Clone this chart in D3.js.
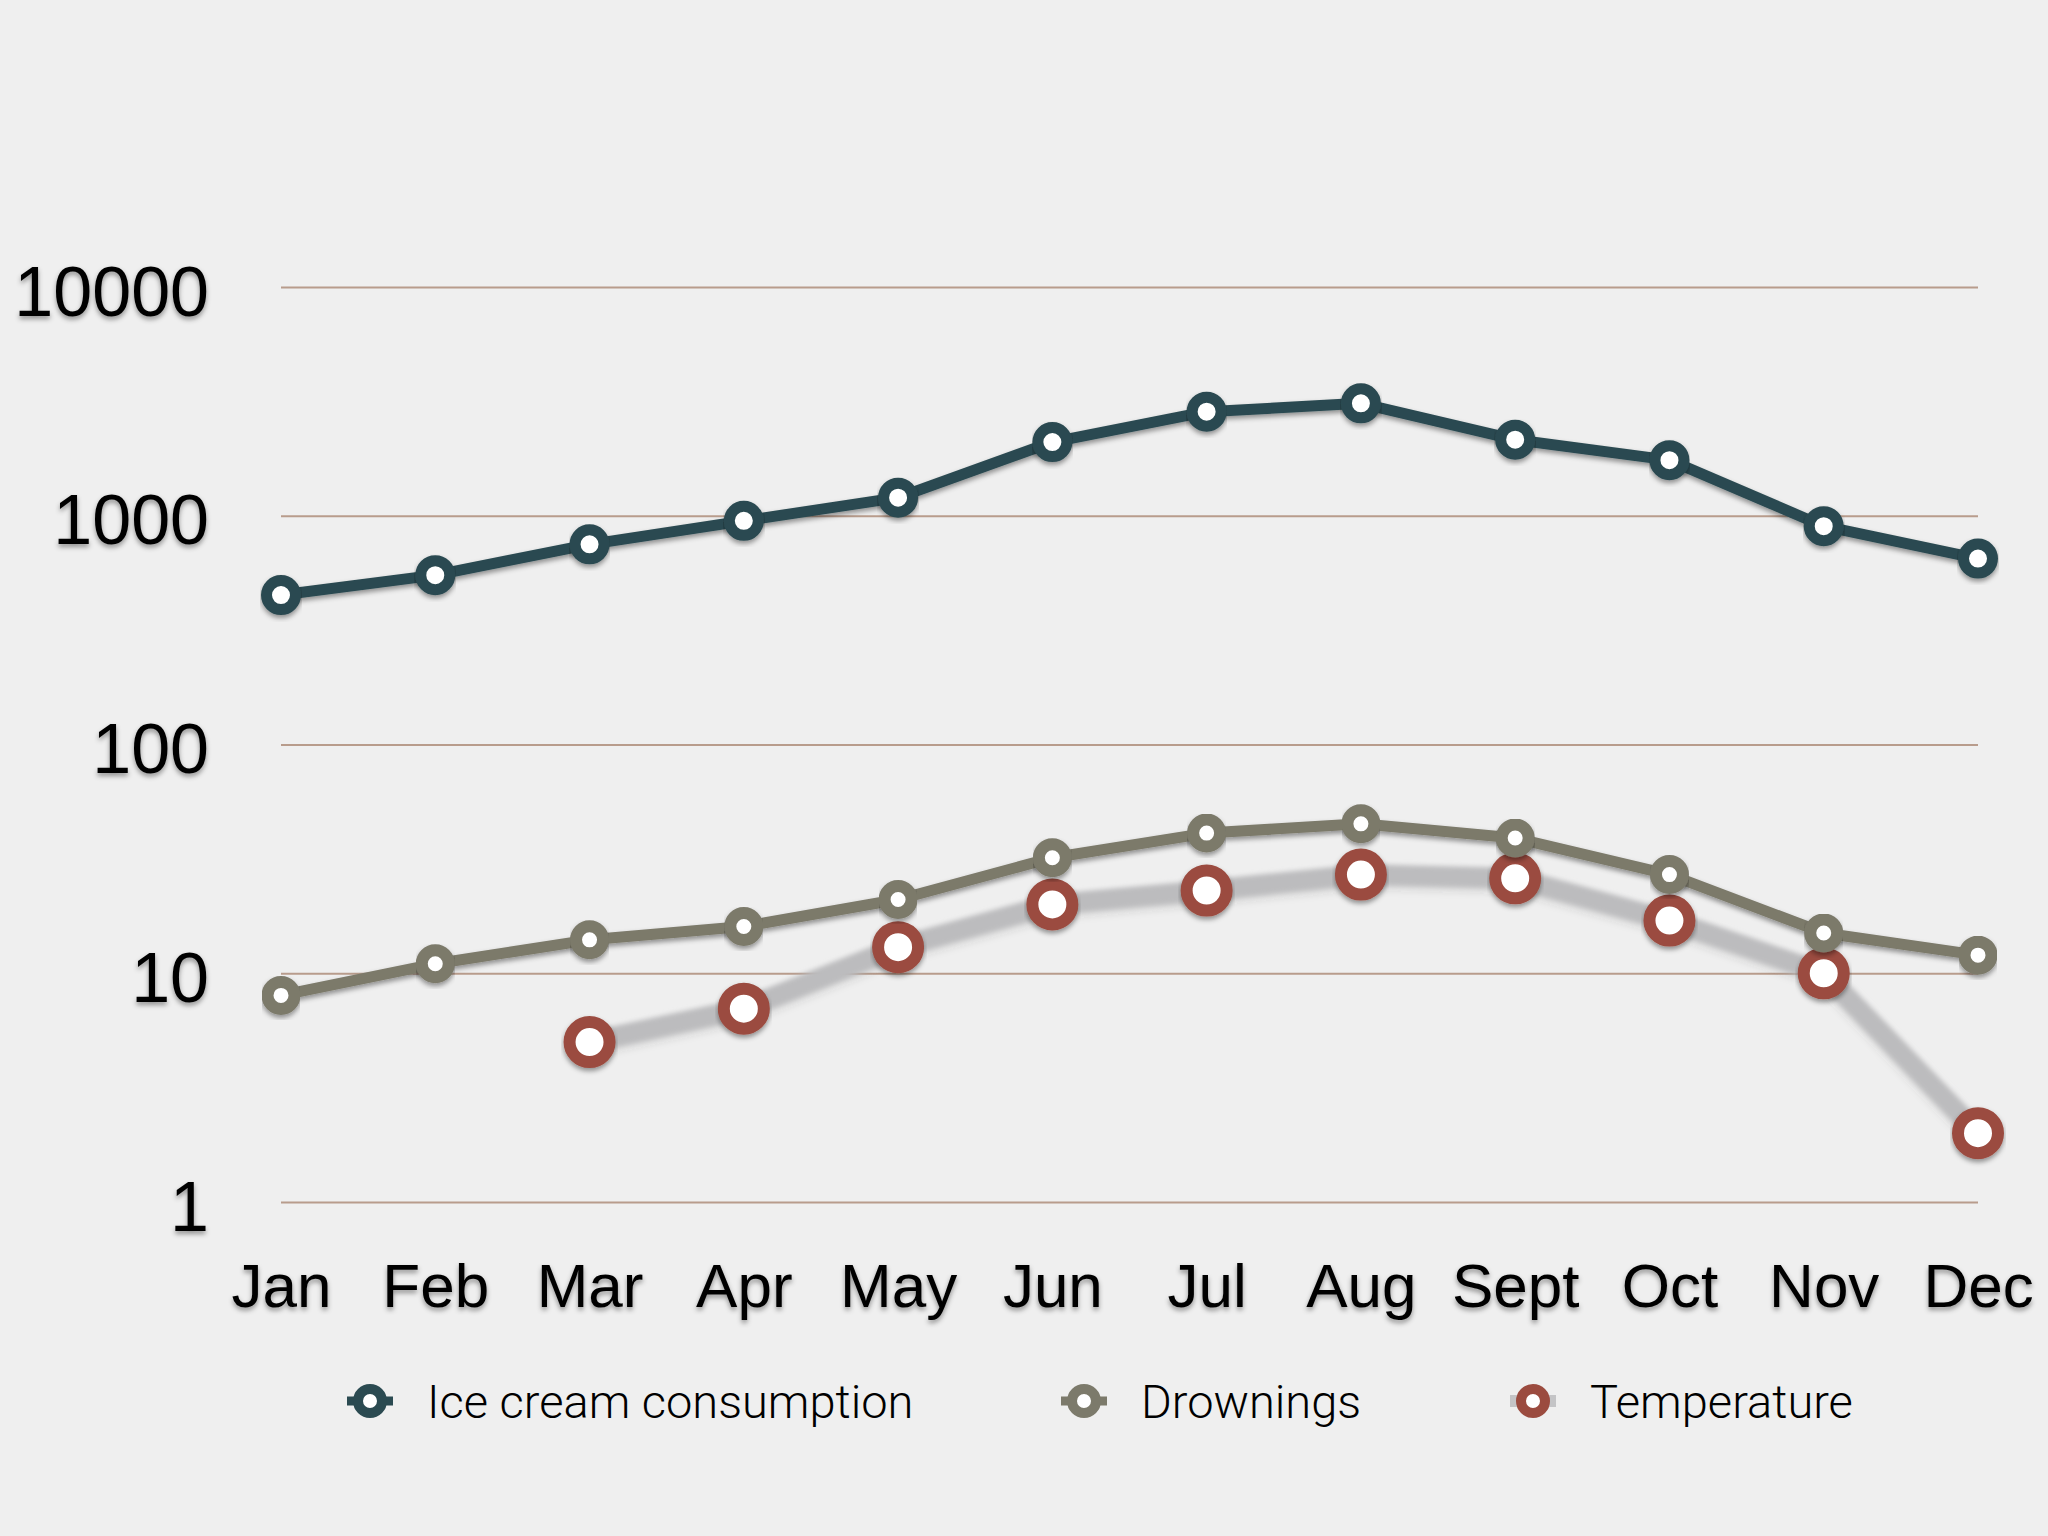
<!DOCTYPE html>
<html>
<head>
<meta charset="utf-8">
<script src="https://cdn.jsdelivr.net/npm/d3@7"></script>
<style>
  html, body { margin: 0; padding: 0; background: #efefef; }
  svg { display: block; }
</style>
</head>
<body>
<div id="chart"></div>
<script>
// months along the bottom
var months = ["Jan", "Feb", "Mar", "Apr", "May", "Jun", "Jul", "Aug", "Sept", "Oct", "Nov", "Dec"];
// values (log scale)
var iceCream = [450, 550, 750, 950, 1200, 2100, 2850, 3100, 2150, 1750, 900, 650];
var drownings = [8, 11, 14, 16, 21, 32, 41, 45, 39, 27, 15, 12];
var temperature = [null, null, 5, 7, 13, 20, 23, 27, 26, 17, 10, 2];
// y tick labels
var yTicks = [1, 10, 100, 1000, 10000];
var seriesNames = ["Ice cream consumption", "Drownings", "Temperature"];

var W = 2048, H = 1536;
var plotLeft = 281, plotRight = 1978, plotTop = 287, plotBottom = 1202;

var svg = d3.select("#chart").append("svg")
  .attr("width", W)
  .attr("height", H);

svg.append("rect").attr("width", W).attr("height", H).attr("fill", "#efefef");

var defs = svg.append("defs");
var shadow = defs.append("filter").attr("id", "shadow")
  .attr("x", "-20%").attr("y", "-20%").attr("width", "140%").attr("height", "160%");
shadow.append("feDropShadow")
  .attr("dx", 0).attr("dy", 3).attr("stdDeviation", 2.5)
  .attr("flood-color", "#000").attr("flood-opacity", 0.4);

var soft = defs.append("filter").attr("id", "soft")
  .attr("x", "-10%").attr("y", "-30%").attr("width", "120%").attr("height", "160%");
soft.append("feGaussianBlur").attr("in", "SourceGraphic").attr("stdDeviation", 2.5).attr("result", "b");
soft.append("feDropShadow").attr("in", "b")
  .attr("dx", 0).attr("dy", 3).attr("stdDeviation", 3)
  .attr("flood-color", "#000").attr("flood-opacity", 0.2);

var x = d3.scalePoint().domain(months).range([plotLeft, plotRight]);
var y = d3.scaleLog().domain([1, 10000]).range([plotBottom, plotTop]);

// y axis with gridlines
var yAxis = svg.append("g")
  .attr("transform", "translate(" + plotLeft + ",0)")
  .call(d3.axisLeft(y)
    .tickValues(yTicks)
    .tickFormat(d3.format("d"))
    .tickSize(-(plotRight - plotLeft))
    .tickPadding(72));
yAxis.select(".domain").remove();
yAxis.selectAll(".tick line")
  .attr("stroke", "#b89c8c")
  .attr("stroke-width", 2);
yAxis.selectAll(".tick text")
  .attr("dy", "0.4em")
  .attr("fill", "#000")
  .attr("filter", "url(#shadow)")
  .style("font-family", "'Liberation Sans', Arial, sans-serif")
  .style("font-size", "70px");

// x axis labels
var xAxis = svg.append("g")
  .attr("transform", "translate(0," + plotBottom + ")")
  .call(d3.axisBottom(x).tickSize(0).tickPadding(105));
xAxis.select(".domain").remove();
xAxis.selectAll(".tick text")
  .attr("dy", 0)
  .attr("fill", "#000")
  .attr("filter", "url(#shadow)")
  .style("font-family", "'Liberation Sans', Arial, sans-serif")
  .style("font-size", "62px");

var line = d3.line()
  .defined(function (d) { return d != null; })
  .x(function (d, i) { return x(months[i]); })
  .y(function (d) { return y(d); });

// temperature: soft grey line, red rings
svg.append("path")
  .datum(temperature)
  .attr("d", line)
  .attr("fill", "none")
  .attr("stroke", "#bcbcbe")
  .attr("stroke-width", 20)
  .attr("stroke-linejoin", "round")
  .attr("filter", "url(#soft)");

// drownings
svg.append("path")
  .datum(drownings)
  .attr("d", line)
  .attr("fill", "none")
  .attr("stroke", "#7c7a6b")
  .attr("stroke-width", 11)
  .attr("stroke-linejoin", "round")
  .attr("filter", "url(#shadow)");

// ice cream
svg.append("path")
  .datum(iceCream)
  .attr("d", line)
  .attr("fill", "none")
  .attr("stroke", "#2b4a51")
  .attr("stroke-width", 11)
  .attr("stroke-linejoin", "round")
  .attr("filter", "url(#shadow)");

function markers(data, color, r, sw) {
  svg.append("g").selectAll("circle")
    .data(data.map(function (d, i) { return { v: d, m: months[i] }; })
      .filter(function (d) { return d.v != null; }))
    .enter()
    .append("circle")
    .attr("cx", function (d) { return x(d.m); })
    .attr("cy", function (d) { return y(d.v); })
    .attr("r", r)
    .attr("fill", "#fff")
    .attr("stroke", color)
    .attr("stroke-width", sw)
    .attr("filter", "url(#shadow)");
}
markers(temperature, "#9b4b3f", 20, 12);
markers(drownings, "#7c7a6b", 13.5, 12);
markers(iceCream, "#2b4a51", 14.5, 11);

// legend
var legendColors = ["#2b4a51", "#7c7a6b", "#9b4b3f"];
var legendX = [370, 1084, 1533];
var legendY = 1401;
var lg = svg.append("g").selectAll("g")
  .data(seriesNames)
  .enter()
  .append("g")
  .attr("transform", function (d, i) { return "translate(" + legendX[i] + "," + legendY + ")"; });

lg.append("line")
  .attr("x1", -23).attr("x2", 23)
  .attr("stroke", function (d, i) { return i == 2 ? "#c4c4c6" : legendColors[i]; })
  .attr("stroke-width", function (d, i) { return i == 2 ? 12 : 9; });
lg.append("circle")
  .attr("r", 12)
  .attr("fill", "#fff")
  .attr("stroke", function (d, i) { return legendColors[i]; })
  .attr("stroke-width", 10);
lg.append("text")
  .attr("x", 57)
  .attr("dy", "0.36em")
  .text(function (d) { return d; })
  .attr("fill", "#000")
  .style("font-family", "Roboto, 'Liberation Sans', sans-serif")
  .style("font-weight", 300)
  .style("font-size", "47px");
</script>
</body>
</html>
